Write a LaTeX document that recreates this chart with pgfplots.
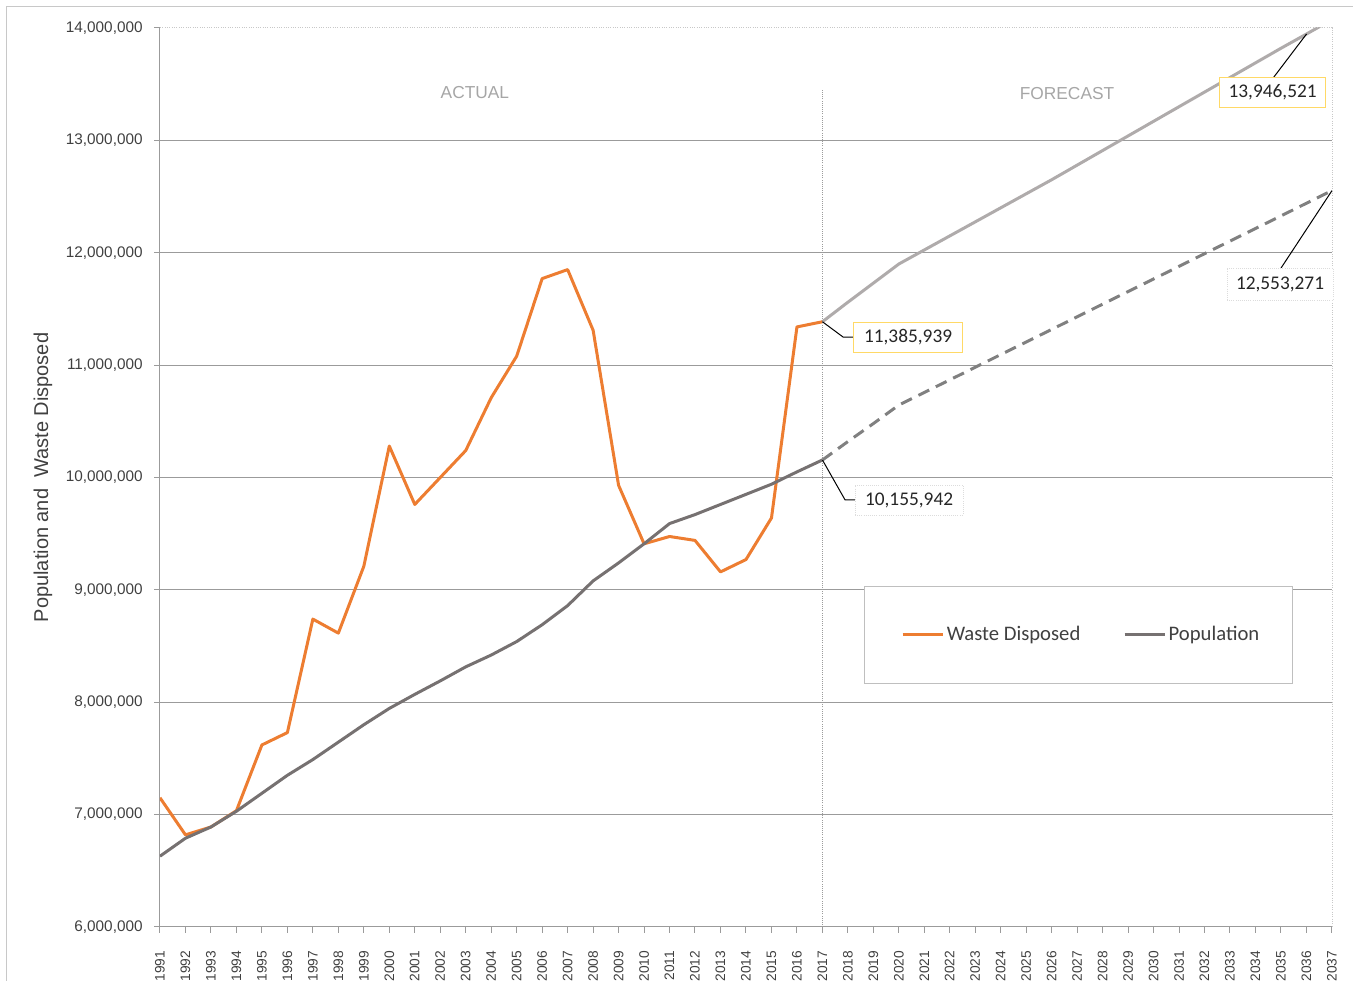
\documentclass[border=0pt]{standalone}
\usepackage{pgfplots}
\pgfplotsset{compat=1.18}
\usepackage{fontspec}
\setmainfont{Liberation Sans}
\newfontfamily\calibri{Carlito}
\definecolor{wasteor}{RGB}{237,125,49}
\definecolor{popgray}{RGB}{118,113,113}
\definecolor{fcgray}{RGB}{175,171,171}
\definecolor{popfc}{RGB}{128,128,128}
\definecolor{gridgray}{RGB}{155,155,155}
\definecolor{lightline}{RGB}{200,200,200}
\definecolor{txtgray}{RGB}{64,64,64}
\definecolor{labgold}{RGB}{255,217,102}
\definecolor{labtxt}{RGB}{38,38,38}

\pgfplotstableread{
year val
1991 7150000
1992 6820000
1993 6890000
1994 7035000
1995 7620000
1996 7730000
1997 8740000
1998 8615000
1999 9210000
2000 10280000
2001 9760000
2002 10000000
2003 10240000
2004 10710000
2005 11080000
2006 11770000
2007 11850000
2008 11310000
2009 9930000
2010 9410000
2011 9475000
2012 9440000
2013 9160000
2014 9270000
2015 9640000
2016 11340000
2017 11385939
}\wasteact

\pgfplotstableread{
year val
2017 11385939
2018 11560000
2019 11730000
2020 11900000
2021 12025000
2022 12150000
2023 12275000
2024 12400000
2025 12525000
2026 12650000
2027 12780000
2028 12910000
2029 13040000
2030 13170000
2031 13300000
2032 13430000
2033 13560000
2034 13690000
2035 13820000
2036 13946521
2037 14075000
}\wastefc

\pgfplotstableread{
year val
1991 6630000
1992 6790000
1993 6890000
1994 7030000
1995 7190000
1996 7350000
1997 7490000
1998 7645000
1999 7800000
2000 7945000
2001 8070000
2002 8190000
2003 8315000
2004 8420000
2005 8540000
2006 8690000
2007 8860000
2008 9080000
2009 9240000
2010 9410000
2011 9590000
2012 9670000
2013 9760000
2014 9850000
2015 9940000
2016 10050000
2017 10155942
}\popact

\pgfplotstableread{
year val
2017 10155942
2018 10320000
2019 10480000
2020 10645000
2021 10757000
2022 10869000
2023 10981000
2024 11094000
2025 11206000
2026 11318000
2027 11430000
2028 11543000
2029 11655000
2030 11767000
2031 11879000
2032 11992000
2033 12104000
2034 12216000
2035 12328000
2036 12441000
2037 12553271
}\popfcst

\begin{document}
\begin{tikzpicture}[x=1pt,y=1pt]
\path[use as bounding box] (-120,-40.5) rectangle (894.75,695.25);
\draw[color=lightline, line width=0.75pt] (-114.75,-41) -- (-114.75,690) -- (895,690);
\begin{axis}[
  at={(0,0)}, anchor=south west,
  scale only axis, width=879pt, height=674.25pt,
  xmin=1991, xmax=2037, ymin=6000000, ymax=14000000,
  clip mode=individual,
  axis x line*=bottom, axis y line*=left,
  axis line style={gridgray, line width=0.75pt, -},
  xtick={1991,...,2037},
  ytick={6000000,7000000,8000000,9000000,10000000,11000000,12000000,13000000},
  extra y ticks={14000000},
  extra y tick style={grid=none},
  ymajorgrids, grid style={gridgray, line width=0.75pt},
  tick align=outside, major tick length=4.5pt,
  tick style={gridgray, line width=0.75pt},
  scaled y ticks=false,
  /pgf/number format/assume math mode=true,
  yticklabel shift=5pt,
  xticklabel shift=10pt,
  y tick label style={font=\fontsize{11.5}{13}\selectfont, text=txtgray,
     /pgf/number format/fixed, /pgf/number format/1000 sep={,}},
  x tick label style={font=\fontsize{10.3}{12}\selectfont, text=txtgray, rotate=90, anchor=east,
     /pgf/number format/1000 sep={}},
  ylabel={Population and\ \ Waste Disposed},
  every axis y label/.style={at={(axis description cs:-0.0998,0.5)}, anchor=center, rotate=90,
     font=\fontsize{15}{18}\selectfont, text=txtgray},
  legend image code/.code={\draw[#1] (0pt,0pt) -- (30pt,0pt);},
  legend style={draw=none, fill=none, at={(0.7863,0.3259)}, anchor=center,
     font=\calibri\fontsize{15.5}{18}\selectfont, text=txtgray,
     /tikz/every even column/.append style={column sep=30pt}},
  legend columns=2,
]
\addplot[fcgray, line width=2.25pt, line join=round, forget plot] table[x=year,y=val] {\wastefc};
\addplot[popfc, line width=2.25pt, dash pattern=on 9pt off 5.5pt, forget plot] table[x=year,y=val] {\popfcst};
\addplot[wasteor, line width=2.25pt, line join=round] table[x=year,y=val] {\wasteact};
\addlegendentry{Waste Disposed}
\addplot[popgray, line width=2.25pt, line join=round] table[x=year,y=val] {\popact};
\addlegendentry{Population}

% plot area top/right border
\draw[lightline, line width=0.75pt, densely dotted] (rel axis cs:0,1) -- (rel axis cs:1,1) -- (rel axis cs:1,0);
% divider
\draw[gridgray, line width=0.6pt, densely dotted] (axis cs:2017,6000000) -- (axis cs:2017,13450000);
% section titles
\node[text={rgb,255:red,166;green,166;blue,166}, font=\fontsize{13}{15}\selectfont] at (axis cs:2003.36,13430000) {ACTUAL};
\node[text={rgb,255:red,166;green,166;blue,166}, font=\fontsize{13}{15}\selectfont] at (axis cs:2026.6,13420000) {FORECAST};

% legend frame
\draw[color={rgb,255:red,191;green,191;blue,191}, fill=white, line width=0.75pt] (rel axis cs:0.6015,0.2714) rectangle (rel axis cs:0.9667,0.3793);

% data labels
\draw[black, line width=0.75pt] (axis cs:2017,11385939) -- (axis cs:2017.81,11250000) -- (axis cs:2018.2,11250000);
\node[draw=labgold, fill=white, line width=0.75pt, minimum width=82pt, minimum height=22.5pt, inner sep=0pt,
  font=\calibri\fontsize{14.5}{17}\selectfont, text=labtxt] at (axis cs:2020.36,11250000) {11,385,939};

\draw[black, line width=0.75pt] (axis cs:2017,10155942) -- (axis cs:2017.89,9800000) -- (axis cs:2018.28,9800000);
\node[draw={rgb,255:red,220;green,220;blue,220}, densely dotted, fill=white, line width=0.6pt, minimum width=81pt, minimum height=22.5pt, inner sep=0pt,
  font=\calibri\fontsize{14.5}{17}\selectfont, text=labtxt] at (axis cs:2020.40,9800000) {10,155,942};

\draw[black, line width=0.75pt] (axis cs:2034.69,13555000) -- (axis cs:2036,13946521);
\node[draw=labgold, fill=white, line width=0.75pt, minimum width=80pt, minimum height=22pt, inner sep=0pt,
  font=\calibri\fontsize{14.5}{17}\selectfont, text=labtxt] at (axis cs:2034.67,13426000) {13,946,521};

\draw[black, line width=0.75pt] (axis cs:2035.0,11864000) -- (axis cs:2037,12553271);
\node[draw={rgb,255:red,220;green,220;blue,220}, densely dotted, fill=white, line width=0.6pt, minimum width=79.5pt, minimum height=24pt, inner sep=0pt,
  font=\calibri\fontsize{14.5}{17}\selectfont, text=labtxt] at (axis cs:2034.96,11722000) {12,553,271};
\end{axis}
\end{tikzpicture}
\end{document}
